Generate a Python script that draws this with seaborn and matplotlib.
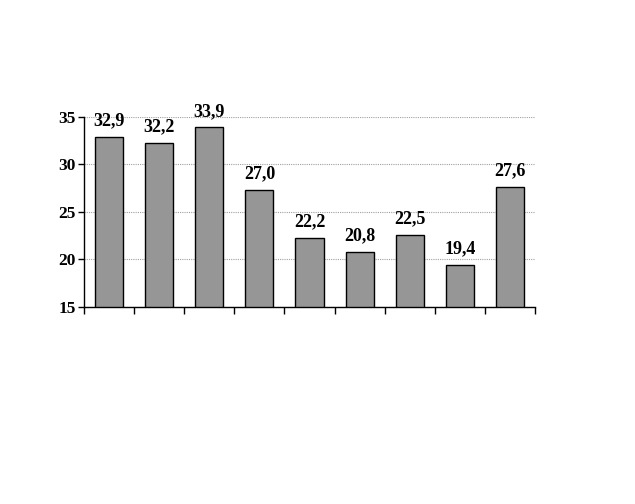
import seaborn as sns
import matplotlib.pyplot as plt
import pandas as pd

categories = ["1", "2", "3", "4", "5", "6", "7", "8", "9"]
heights = [32.9, 32.3, 33.9, 27.3, 22.3, 20.8, 22.6, 19.4, 27.6]
value_labels = ["32,9", "32,2", "33,9", "27,0", "22,2", "20,8", "22,5", "19,4", "27,6"]
y_ticks = [15, 20, 25, 30, 35]

df = pd.DataFrame({"cat": categories, "val": heights})

sns.set_style("white")
plt.rcParams['font.family'] = ['Liberation Serif', 'DejaVu Serif']
plt.rcParams['font.weight'] = 'bold'
plt.rcParams['text.color'] = 'black'

fig = plt.figure(figsize=(6.35, 5.04), dpi=100)
ax = fig.add_axes([0.1323, 0.3909, 0.7102, 0.3770])

sns.barplot(ax=ax, data=df, x="cat", y="val", color="#969696",
            edgecolor="black", linewidth=1.0, width=0.56, saturation=1)

ax.set_ylim(15, 35)
ax.set_xlim(-0.5, len(categories) - 0.5)
ax.set_yticks(y_ticks)
ax.set_yticklabels([str(t) for t in y_ticks], fontsize=12.5, fontweight='bold', color='black')
ax.set_xticks([i - 0.5 for i in range(len(categories) + 1)])
ax.set_xticklabels([])
ax.tick_params(axis='x', direction='out', length=5, width=1, colors='black', bottom=True)
ax.tick_params(axis='y', direction='out', length=4, width=1, colors='black', left=True, pad=2)
ax.set_xlabel("")
ax.set_ylabel("")

ax.yaxis.grid(True, linestyle=(0, (1, 1)), color='#a0a0a0', linewidth=0.8)
ax.set_axisbelow(True)
for s in ['top', 'right']:
    ax.spines[s].set_visible(False)
for s in ['left', 'bottom']:
    ax.spines[s].set_color('black')
    ax.spines[s].set_linewidth(1)

for i, (h, lab) in enumerate(zip(heights, value_labels)):
    ax.annotate(lab, (i, h), xytext=(0, 5.5), textcoords='offset points',
                ha='center', va='bottom', fontsize=13, fontweight='bold',
                color='black', annotation_clip=False)

plt.savefig("out.png", dpi=100)
plt.close('all')
